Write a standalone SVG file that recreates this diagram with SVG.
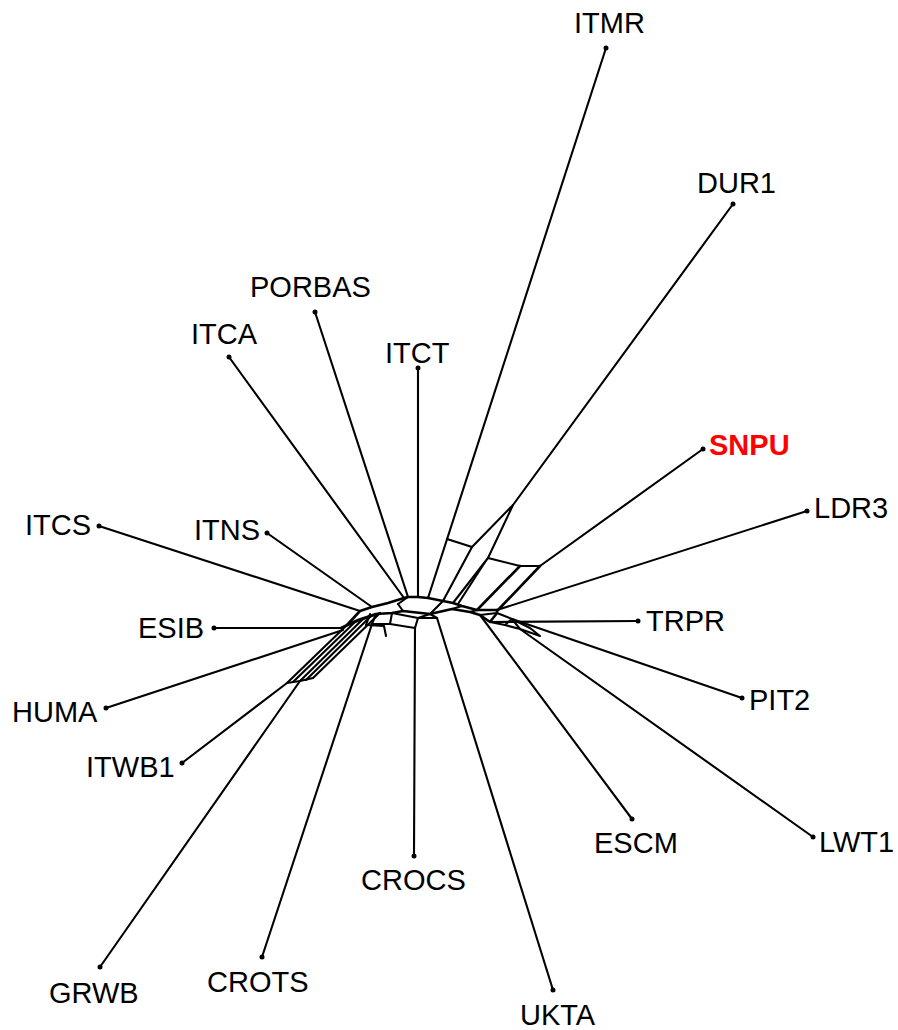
<svg xmlns="http://www.w3.org/2000/svg" width="898" height="1030" viewBox="0 0 898 1030">
<style>
.e{fill:none;stroke:#000;stroke-width:2.1;stroke-linejoin:round;stroke-linecap:round}
.c{stroke-width:2.6}
.d{fill:#000}
.t{font-family:"Liberation Sans",Arial,sans-serif;font-size:29px;fill:#000}
.h{font-weight:bold;fill:#ff0000}
</style>
<rect width="898" height="1030" fill="#fff"/>
<g id="connectors">
<path class="e" d="M606,48 L428,598"/>
<path class="e" d="M733,204 L513,505"/>
<path class="e" d="M703,449 L540,566"/>
<path class="e" d="M807,511 L497,610"/>
<path class="e" d="M638,621 L490,622"/>
<path class="e" d="M742,698 L512,619"/>
<path class="e" d="M813,837 L520,629"/>
<path class="e" d="M632,819 L480,615"/>
<path class="e" d="M553,990 L437,618"/>
<path class="e" d="M414,856 L415,628"/>
<path class="e" d="M262,957 L372,624"/>
<path class="e" d="M100,967 L300,681"/>
<path class="e" d="M182,763 L287,683"/>
<path class="e" d="M106,708 L343,630"/>
<path class="e" d="M214,628 L341,628"/>
<path class="e" d="M99,526 L360,611"/>
<path class="e" d="M267,533 L372,607"/>
<path class="e" d="M229,357 L404,598"/>
<path class="e" d="M315,312 L408,597"/>
<path class="e" d="M418,368 L418,597"/>
<path class="e" d="M447,539 L472,547 L513,505 L488,558 L520,566 L540,566"/>
<path class="e" d="M472,547 L443,601"/>
<path class="e" d="M488,558 L453,603"/>
<path class="e" d="M485,562 L458,604"/>
<path class="e c" d="M520,566 L477,610"/>
<path class="e c" d="M540,566 L498,610"/>
<path class="e c" d="M347,625 L360,611 L372,607 L388,603 L404,598 L408,597 L418,597 L428,598 L443,601 L453,603 L462,606 L477,610 L497,610"/>
<path class="e c" d="M341,628 L358,620 L376,614 L392,613 L403,611 L430,614 L452,609 L470,612 L480,615 L490,622 L497,613 L497,610"/>
<path class="e" d="M398,604 L408,597"/>
<path class="e" d="M398,604 L403,611"/>
<path class="e" d="M452,609 L462,606"/>
<path class="e" d="M430,614 L443,601"/>
<path class="e" d="M470,612 L477,610"/>
<path class="e" d="M480,615 L497,613"/>
<path class="e" d="M392,613 L390,624 L415,628 L418,618 L430,614"/>
<path class="e" d="M418,618 L392,613"/>
<path class="e" d="M418,618 L437,618 L430,614"/>
<path class="e" d="M372,624 L390,624"/>
<path class="e" d="M372,624 L376,614"/>
<path class="e" d="M366,625 L384,626 L386,636"/>
<path class="e" d="M366,625 L370,614"/>
<path class="e" d="M497,613 L512,619 L520,629 L505,625 L490,622"/>
<path class="e" d="M505,625 L512,619"/>
<path class="e" d="M512,619 L530,628 L540,636 L520,629"/>
<path class="e" d="M287,683 L300,681 L313,678"/>
<path class="e" d="M347,625 L380,613"/>
<path class="e" d="M287,683 L347,625"/>
<path class="e" d="M293,682 L355,622"/>
<path class="e" d="M300,681 L363,619"/>
<path class="e" d="M306,680 L371,616"/>
<path class="e" d="M313,678 L380,613"/>
</g>
<g id="dots">
<circle class="d" cx="606" cy="48" r="2.5"/>
<circle class="d" cx="733" cy="204" r="2.5"/>
<circle class="d" cx="703" cy="449" r="2.5"/>
<circle class="d" cx="807" cy="511" r="2.5"/>
<circle class="d" cx="638" cy="621" r="2.5"/>
<circle class="d" cx="742" cy="698" r="2.5"/>
<circle class="d" cx="813" cy="837" r="2.5"/>
<circle class="d" cx="632" cy="819" r="2.5"/>
<circle class="d" cx="553" cy="990" r="2.5"/>
<circle class="d" cx="414" cy="856" r="2.5"/>
<circle class="d" cx="262" cy="957" r="2.5"/>
<circle class="d" cx="100" cy="967" r="2.5"/>
<circle class="d" cx="182" cy="763" r="2.5"/>
<circle class="d" cx="106" cy="708" r="2.5"/>
<circle class="d" cx="214" cy="628" r="2.5"/>
<circle class="d" cx="99" cy="526" r="2.5"/>
<circle class="d" cx="267" cy="533" r="2.5"/>
<circle class="d" cx="229" cy="357" r="2.5"/>
<circle class="d" cx="315" cy="312" r="2.5"/>
<circle class="d" cx="418" cy="368" r="2.5"/>
</g>
<g id="n-ITMR"><text class="t" x="574" y="33">ITMR</text></g>
<g id="n-DUR1"><text class="t" x="697" y="193">DUR1</text></g>
<g id="n-PORBAS"><text class="t" x="250" y="297">PORBAS</text></g>
<g id="n-ITCA"><text class="t" x="191" y="344">ITCA</text></g>
<g id="n-ITCT"><text class="t" x="385" y="363">ITCT</text></g>
<g id="n-SNPU"><text class="t h" x="709" y="455">SNPU</text></g>
<g id="n-LDR3"><text class="t" x="814" y="518">LDR3</text></g>
<g id="n-ITCS"><text class="t" x="25" y="535">ITCS</text></g>
<g id="n-ITNS"><text class="t" x="194" y="540">ITNS</text></g>
<g id="n-ESIB"><text class="t" x="138" y="638">ESIB</text></g>
<g id="n-TRPR"><text class="t" x="646" y="631">TRPR</text></g>
<g id="n-HUMA"><text class="t" x="12" y="722">HUMA</text></g>
<g id="n-PIT2"><text class="t" x="749" y="710">PIT2</text></g>
<g id="n-ITWB1"><text class="t" x="86" y="777">ITWB1</text></g>
<g id="n-ESCM"><text class="t" x="594" y="853">ESCM</text></g>
<g id="n-LWT1"><text class="t" x="819" y="852">LWT1</text></g>
<g id="n-CROCS"><text class="t" x="361" y="890">CROCS</text></g>
<g id="n-UKTA"><text class="t" x="520" y="1025">UKTA</text></g>
<g id="n-GRWB"><text class="t" x="49" y="1003">GRWB</text></g>
<g id="n-CROTS"><text class="t" x="207" y="992">CROTS</text></g>
</svg>
